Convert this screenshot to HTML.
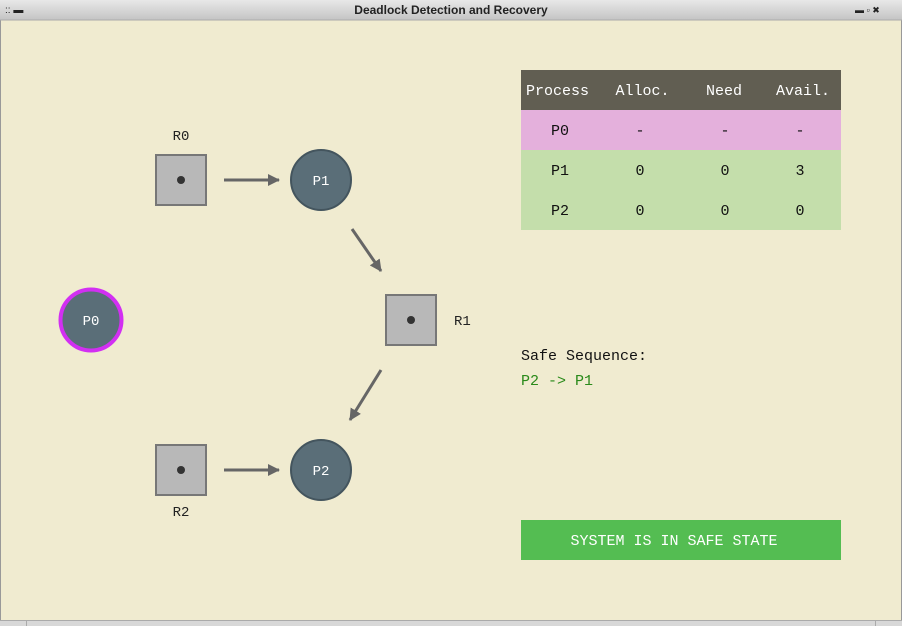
<!DOCTYPE html>
<html><head><style>
html,body{margin:0;padding:0;width:902px;height:626px;overflow:hidden;background:#f0ebd0}
svg{display:block}
</style></head><body>
<svg width="902" height="626" xmlns="http://www.w3.org/2000/svg">
<defs>
<linearGradient id="tb" x1="0" y1="0" x2="0" y2="1"><stop offset="0" stop-color="#e8e8e8"/><stop offset="1" stop-color="#c4c4c4"/></linearGradient>
<marker id="ah" markerWidth="12" markerHeight="12" refX="11" refY="6" orient="auto" markerUnits="userSpaceOnUse"><path d="M0,0 L12,6 L0,12 z" fill="#666"/></marker>
</defs>
<rect x="0" y="0" width="902" height="626" fill="#f0ebd0"/>
<rect x="0.5" y="0.5" width="901" height="625" fill="none" stroke="#999"/>
<rect x="0" y="0" width="902" height="20" fill="url(#tb)"/>
<line x1="0" y1="20" x2="902" y2="20" stroke="#aaa"/>
<text x="451" y="14" text-anchor="middle" font-family="Liberation Sans, sans-serif" font-weight="bold" font-size="12" fill="#222">Deadlock Detection and Recovery</text>
<text x="5" y="13" font-family="Liberation Sans, sans-serif" font-size="10" fill="#222">:: ▬</text>
<text x="855" y="13" font-family="Liberation Sans, sans-serif" font-size="9" fill="#222">▬  ▫  ✖</text>
<rect x="0" y="620" width="902" height="6" fill="#d8d8d8"/>
<line x1="0" y1="620.5" x2="902" y2="620.5" stroke="#aaa"/>
<line x1="26.5" y1="620" x2="26.5" y2="626" stroke="#aaa"/>
<line x1="875.5" y1="620" x2="875.5" y2="626" stroke="#aaa"/>

<g font-family="Liberation Mono, monospace" font-size="14">
<text x="181" y="140" text-anchor="middle" fill="#222">R0</text>
<rect x="156" y="155" width="50" height="50" fill="#b8b8b8" stroke="#777" stroke-width="2"/>
<circle cx="181" cy="180" r="4" fill="#333"/>
<circle cx="321" cy="180" r="30" fill="#5a6e78" stroke="#44555e" stroke-width="2"/>
<text x="321" y="185" text-anchor="middle" fill="#fff">P1</text>
<rect x="386" y="295" width="50" height="50" fill="#b8b8b8" stroke="#777" stroke-width="2"/>
<circle cx="411" cy="320" r="4" fill="#333"/>
<text x="454" y="325" fill="#222">R1</text>
<rect x="156" y="445" width="50" height="50" fill="#b8b8b8" stroke="#777" stroke-width="2"/>
<circle cx="181" cy="470" r="4" fill="#333"/>
<text x="181" y="516" text-anchor="middle" fill="#222">R2</text>
<circle cx="321" cy="470" r="30" fill="#5a6e78" stroke="#44555e" stroke-width="2"/>
<text x="321" y="475" text-anchor="middle" fill="#fff">P2</text>
<circle cx="91" cy="320" r="30.5" fill="#5a6e78" stroke="#d22ff2" stroke-width="4"/>
<text x="91" y="325" text-anchor="middle" fill="#fff">P0</text>
</g>
<g stroke="#666" stroke-width="3" fill="none">
<line x1="224" y1="180" x2="279" y2="180" marker-end="url(#ah)"/>
<line x1="352" y1="229" x2="381" y2="271" marker-end="url(#ah)"/>
<line x1="381" y1="370" x2="350" y2="420" marker-end="url(#ah)"/>
<line x1="224" y1="470" x2="279" y2="470" marker-end="url(#ah)"/>
</g>

<rect x="521" y="70" width="320" height="40" fill="#615e52"/>
<rect x="521" y="110" width="320" height="40" fill="#e4b0dc"/>
<rect x="521" y="150" width="320" height="80" fill="#c4deab"/>
<g font-family="Liberation Mono, monospace" font-size="15" text-anchor="middle">
<g fill="#fff">
<text x="557.5" y="95">Process</text>
<text x="642.5" y="95">Alloc.</text>
<text x="724" y="95">Need</text>
<text x="803" y="95">Avail.</text>
</g>
<g fill="#111">
<text x="560" y="135">P0</text>
<text x="640" y="135">-</text><text x="725" y="135">-</text><text x="800" y="135">-</text>
<text x="560" y="175">P1</text>
<text x="640" y="175">0</text><text x="725" y="175">0</text><text x="800" y="175">3</text>
<text x="560" y="215">P2</text>
<text x="640" y="215">0</text><text x="725" y="215">0</text><text x="800" y="215">0</text>
</g>
</g>
<g font-family="Liberation Mono, monospace" font-size="15">
<text x="521" y="360" fill="#111">Safe Sequence:</text>
<text x="521" y="385" fill="#2a8a1a">P2 -&gt; P1</text>
</g>
<rect x="521" y="520" width="320" height="40" fill="#54bd52"/>
<text x="674" y="545" text-anchor="middle" font-family="Liberation Mono, monospace" font-size="15" fill="#fff">SYSTEM IS IN SAFE STATE</text>
</svg>
</body></html>
